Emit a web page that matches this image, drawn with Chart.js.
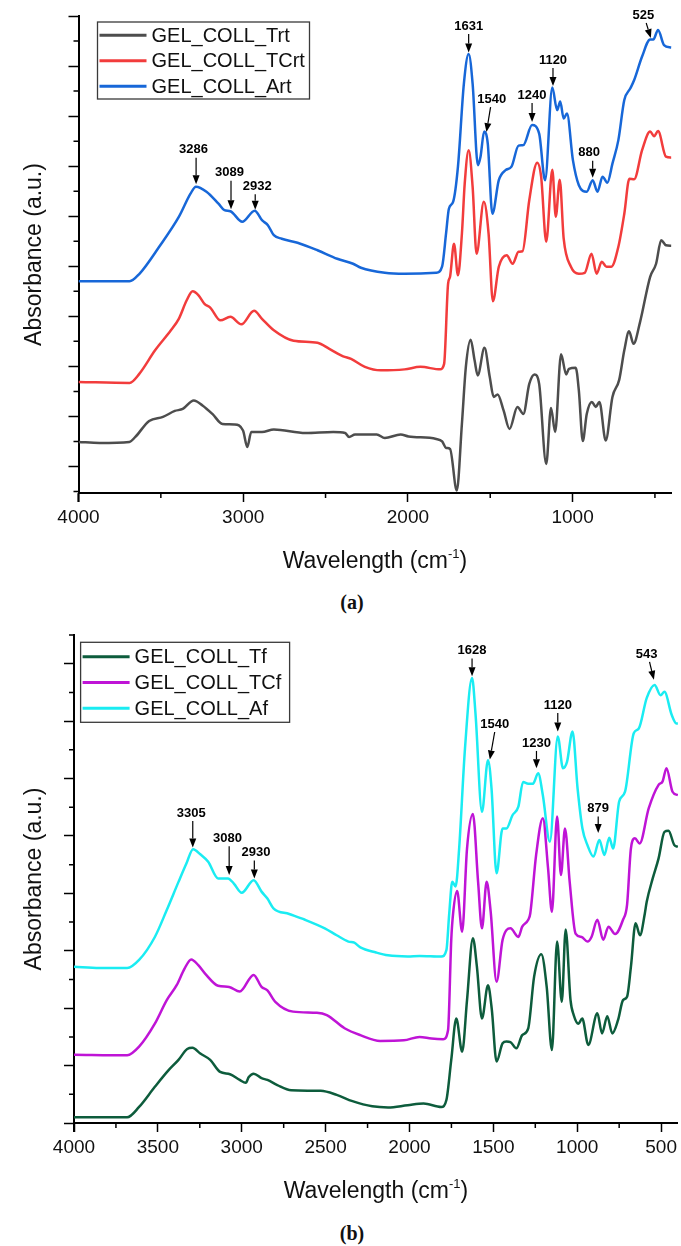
<!DOCTYPE html>
<html>
<head>
<meta charset="utf-8">
<script src="https://cdn.jsdelivr.net/npm/chart.js@4.4.1/dist/chart.umd.min.js"></script>
<style>
  html, body { margin: 0; padding: 0; background: #fff; }
  #page { position: relative; width: 681px; height: 1246px; overflow: hidden; }
  canvas { position: absolute; left: 0; }
  #chartA { top: 0; }
  #chartB { top: 615px; }
  .panel { position: absolute; left: 302px; width: 100px; text-align: center;
           font: bold 20px 'Liberation Serif', 'DejaVu Serif', serif; line-height: 24px; color: #111; }
</style>
</head>
<body>
<div id="page">
  <canvas id="chartA" width="681" height="585"></canvas>
  <div class="panel" style="top: 590px;">(a)</div>
  <canvas id="chartB" width="681" height="600"></canvas>
  <div class="panel" style="top: 1221px;">(b)</div>
</div>
<script>
// ---- panel (a): room temperature spectra ----
const trtWn = [4000, 3872, 3691, 3655, 3571, 3487, 3415, 3367, 3300, 3247, 3187, 3126, 3054, 3001, 2975, 2951, 2886, 2814, 2621, 2453, 2381, 2357, 2321, 2189, 2140, 2044, 1996, 1828, 1792, 1768, 1744, 1703, 1672, 1648, 1619, 1595, 1576, 1535, 1503, 1479, 1455, 1419, 1383, 1335, 1299, 1263, 1231, 1203, 1160, 1131, 1106, 1070, 1039, 1022, 981, 962, 938, 914, 883, 859, 837, 799, 758, 717, 686, 657, 630, 590, 529, 493, 462, 433, 400];
const trtAbs = [1.49, 1.47, 1.49, 1.59, 1.91, 1.99, 2.11, 2.15, 2.32, 2.22, 2.05, 1.85, 1.84, 1.72, 1.39, 1.69, 1.69, 1.74, 1.67, 1.69, 1.67, 1.59, 1.64, 1.64, 1.57, 1.64, 1.60, 1.55, 1.50, 1.37, 1.35, 0.52, 1.85, 2.99, 3.53, 3.12, 2.82, 3.37, 2.79, 2.39, 2.44, 2.12, 1.75, 2.19, 2.05, 2.65, 2.84, 2.65, 1.05, 2.17, 1.69, 3.24, 2.84, 2.95, 2.97, 2.52, 1.51, 2.05, 2.29, 2.19, 2.29, 1.52, 2.39, 2.73, 3.32, 3.70, 3.45, 3.89, 4.79, 5.05, 5.52, 5.42, 5.41];

const tcrtWn = [4000, 3690, 3631, 3535, 3439, 3391, 3343, 3307, 3271, 3235, 3199, 3138, 3078, 3011, 2934, 2886, 2814, 2694, 2549, 2477, 2393, 2345, 2261, 2165, 2020, 1924, 1804, 1780, 1756, 1744, 1720, 1696, 1672, 1655, 1631, 1607, 1583, 1539, 1510, 1484, 1448, 1400, 1364, 1328, 1304, 1263, 1215, 1191, 1160, 1123, 1102, 1078, 1054, 1010, 962, 926, 885, 854, 823, 794, 765, 722, 686, 655, 626, 578, 529, 505, 481, 433, 400];
const tcrtAbs = [2.69, 2.67, 2.85, 3.32, 3.72, 3.95, 4.32, 4.50, 4.42, 4.25, 4.17, 3.92, 3.99, 3.84, 4.11, 3.95, 3.72, 3.51, 3.47, 3.35, 3.20, 3.15, 2.99, 2.92, 2.94, 2.99, 2.94, 3.05, 4.65, 4.79, 5.45, 4.82, 5.65, 6.65, 7.32, 6.59, 5.25, 6.29, 5.65, 4.30, 4.99, 5.22, 5.05, 5.29, 5.30, 6.32, 7.07, 6.79, 5.49, 6.93, 5.99, 6.73, 5.55, 4.99, 4.85, 4.87, 5.25, 4.85, 5.09, 4.99, 4.99, 5.39, 6.05, 6.75, 6.74, 7.32, 7.69, 7.60, 7.70, 7.19, 7.17];

const artWn = [4000, 3690, 3630, 3510, 3390, 3320, 3287, 3223, 3150, 3114, 3078, 3006, 2930, 2886, 2850, 2814, 2766, 2670, 2549, 2429, 2333, 2285, 2140, 2020, 1828, 1792, 1768, 1751, 1725, 1696, 1660, 1631, 1607, 1575, 1559, 1537, 1515, 1487, 1448, 1407, 1371, 1328, 1299, 1246, 1203, 1167, 1123, 1094, 1075, 1054, 1034, 998, 962, 914, 878, 849, 818, 789, 758, 722, 686, 650, 626, 578, 529, 510, 481, 445, 400];
const artAbs = [4.70, 4.70, 4.85, 5.39, 5.99, 6.45, 6.59, 6.49, 6.25, 6.12, 6.10, 5.89, 6.11, 5.92, 5.82, 5.62, 5.55, 5.47, 5.32, 5.15, 5.05, 4.97, 4.87, 4.85, 4.87, 5.00, 5.66, 6.15, 6.29, 6.99, 8.65, 9.24, 8.65, 7.02, 7.19, 7.69, 7.45, 6.05, 6.72, 6.92, 6.99, 7.41, 7.42, 7.82, 7.65, 6.72, 8.57, 8.12, 8.29, 7.95, 8.05, 7.12, 6.62, 6.49, 6.72, 6.49, 6.79, 6.67, 7.05, 7.52, 8.32, 8.55, 8.72, 9.19, 9.53, 9.53, 9.72, 9.42, 9.37];

// ---- panel (b): spectra after treatment ----
const tfWn = [4000, 3683, 3612, 3518, 3436, 3377, 3325, 3294, 3247, 3188, 3129, 3070, 3012, 2976, 2958, 2929, 2882, 2847, 2788, 2705, 2529, 2434, 2340, 2222, 2128, 2011, 1916, 1810, 1780, 1751, 1721, 1686, 1657, 1622, 1598, 1568, 1532, 1509, 1481, 1445, 1422, 1398, 1363, 1328, 1292, 1257, 1214, 1182, 1151, 1120, 1092, 1069, 1040, 1021, 993, 970, 934, 880, 852, 821, 791, 757, 727, 703, 680, 652, 626, 597, 586, 550, 515, 480, 456, 421, 400];
const tfAbs = [1.10, 1.10, 1.28, 1.63, 1.92, 2.10, 2.29, 2.31, 2.21, 2.10, 1.89, 1.85, 1.75, 1.70, 1.80, 1.86, 1.78, 1.75, 1.66, 1.57, 1.56, 1.49, 1.38, 1.29, 1.27, 1.31, 1.34, 1.28, 1.40, 2.10, 2.82, 2.24, 3.14, 4.22, 3.72, 2.82, 3.40, 2.97, 2.07, 2.39, 2.42, 2.41, 2.30, 2.53, 2.65, 3.55, 3.94, 3.37, 2.27, 4.16, 3.11, 4.37, 3.14, 2.88, 2.73, 2.82, 2.36, 2.91, 2.56, 2.86, 2.56, 2.79, 3.14, 3.20, 3.72, 4.48, 4.27, 4.65, 4.85, 5.26, 5.61, 6.07, 6.09, 5.84, 5.81];

const tcfWn = [4000, 3683, 3612, 3518, 3447, 3388, 3341, 3301, 3259, 3212, 3141, 3075, 3012, 2929, 2882, 2847, 2800, 2694, 2552, 2493, 2387, 2293, 2175, 2034, 1940, 1869, 1799, 1770, 1751, 1740, 1716, 1686, 1657, 1622, 1591, 1568, 1540, 1516, 1481, 1445, 1398, 1351, 1328, 1292, 1280, 1245, 1205, 1174, 1151, 1120, 1097, 1073, 1045, 1010, 974, 939, 915, 880, 845, 814, 774, 727, 703, 680, 656, 628, 574, 515, 491, 468, 432, 400];
const tcfAbs = [2.19, 2.18, 2.33, 2.73, 3.14, 3.40, 3.69, 3.85, 3.75, 3.58, 3.39, 3.37, 3.29, 3.58, 3.37, 3.31, 3.11, 2.94, 2.92, 2.88, 2.65, 2.53, 2.43, 2.44, 2.50, 2.47, 2.46, 2.62, 4.19, 4.65, 5.04, 4.33, 5.78, 6.38, 5.20, 4.39, 5.20, 4.68, 3.46, 4.19, 4.39, 4.24, 4.42, 4.54, 4.65, 5.67, 6.31, 5.44, 4.68, 6.34, 5.32, 6.13, 5.20, 4.30, 4.24, 4.16, 4.24, 4.54, 4.19, 4.42, 4.29, 4.54, 4.80, 5.78, 5.96, 5.87, 6.48, 6.89, 6.95, 7.18, 6.77, 6.71];

const afWn = [4000, 3848, 3683, 3612, 3518, 3447, 3377, 3330, 3290, 3247, 3200, 3141, 3082, 3047, 3000, 2929, 2882, 2847, 2811, 2717, 2623, 2505, 2434, 2364, 2329, 2293, 2199, 2128, 2011, 1940, 1810, 1780, 1763, 1745, 1725, 1704, 1669, 1627, 1606, 1568, 1532, 1511, 1481, 1445, 1422, 1386, 1351, 1323, 1292, 1264, 1233, 1205, 1163, 1116, 1085, 1061, 1028, 998, 969, 939, 903, 868, 838, 809, 786, 750, 715, 663, 633, 586, 539, 503, 480, 437, 409, 400];
const afAbs = [3.72, 3.70, 3.70, 3.84, 4.24, 4.71, 5.20, 5.52, 5.77, 5.68, 5.55, 5.26, 5.26, 5.17, 5.01, 5.23, 5.03, 4.91, 4.74, 4.64, 4.54, 4.39, 4.27, 4.16, 4.14, 4.06, 3.97, 3.92, 3.90, 3.91, 3.90, 4.01, 4.65, 5.20, 5.12, 5.78, 7.53, 8.75, 8.11, 6.42, 7.32, 6.83, 5.35, 6.13, 6.13, 6.36, 6.51, 6.94, 6.91, 6.91, 7.09, 6.71, 5.90, 7.73, 7.18, 7.29, 7.82, 6.83, 6.13, 5.84, 5.64, 5.93, 5.67, 5.97, 5.78, 6.60, 6.77, 7.79, 7.87, 8.40, 8.63, 8.45, 8.51, 8.11, 7.96, 7.96];

// axis ticks
const xMajorA = [4000, 3000, 2000, 1000];
const xMinorA = [3500, 2500, 1500, 500];
const xMajorB = [4000, 3500, 3000, 2500, 2000, 1500, 1000, 500];
const xMinorB = [3750, 3250, 2750, 2250, 1750, 1250, 750];
const yMajorA = [1, 2, 3, 4, 5, 6, 7, 8, 9, 10];
const yMinorA = [0.5, 1.5, 2.5, 3.5, 4.5, 5.5, 6.5, 7.5, 8.5, 9.5];
const yMajorB = [1, 2, 3, 4, 5, 6, 7, 8, 9];
const yMinorB = [1.5, 2.5, 3.5, 4.5, 5.5, 6.5, 7.5, 8.5, 9.5];

// peak labels: tip of arrow (x, y), label centre (tx, ty), optional arrow start sx
const peaksA = [
  { text: '3286', x: 3286, y: 6.64, tx: 3302, ty: 7.33 },
  { text: '3089', x: 3074, y: 6.14, tx: 3083, ty: 6.87 },
  { text: '2932', x: 2927, y: 6.13, tx: 2915, ty: 6.60 },
  { text: '1631', x: 1631, y: 9.27, tx: 1631, ty: 9.80 },
  { text: '1540', x: 1523, y: 7.68, tx: 1491, ty: 8.34, sx: 1498 },
  { text: '1240', x: 1246, y: 7.88, tx: 1246, ty: 8.42 },
  { text: '1120', x: 1119, y: 8.60, tx: 1119, ty: 9.12 },
  { text: '880', x: 878, y: 6.77, tx: 900, ty: 7.27 },
  { text: '525', x: 525, y: 9.56, tx: 570, ty: 10.02, sx: 553 }
];
const peaksB = [
  { text: '3305', x: 3292, y: 5.80, tx: 3301, ty: 6.40 },
  { text: '3080', x: 3075, y: 5.32, tx: 3085, ty: 5.96 },
  { text: '2930', x: 2925, y: 5.26, tx: 2915, ty: 5.71 },
  { text: '1628', x: 1627, y: 8.78, tx: 1627, ty: 9.23 },
  { text: '1540', x: 1521, y: 7.33, tx: 1492, ty: 7.95, sx: 1492 },
  { text: '1230', x: 1243, y: 7.18, tx: 1243, ty: 7.62 },
  { text: '1120', x: 1116, y: 7.82, tx: 1116, ty: 8.28 },
  { text: '879', x: 875, y: 6.05, tx: 875, ty: 6.48 },
  { text: '543', x: 543, y: 8.72, tx: 586, ty: 9.17, sx: 569 }
];

const FONT = "'Liberation Sans', Arial, 'DejaVu Sans', sans-serif";

// draws the minor ticks, x title with superscript, boxed legend and arrowed peak labels
function makeOverlay(cfg) {
  return {
    id: 'overlay',
    afterDraw(chart) {
      const { ctx, chartArea: area, scales: { x, y } } = chart;
      ctx.save();

      // minor ticks + axis stub below the corner
      ctx.strokeStyle = '#000';
      ctx.lineWidth = 1.5;
      ctx.beginPath();
      cfg.xMinor.forEach(v => {
        const px = x.getPixelForValue(v);
        ctx.moveTo(px, area.bottom);
        ctx.lineTo(px, area.bottom + 5);
      });
      cfg.yMinor.forEach(v => {
        const py = y.getPixelForValue(v);
        ctx.moveTo(area.left, py);
        ctx.lineTo(area.left - 5, py);
      });
      ctx.stroke();
      ctx.lineWidth = 2;
      ctx.beginPath();
      ctx.moveTo(area.left, area.bottom);
      ctx.lineTo(area.left, area.bottom + 9);
      ctx.stroke();

      // x title: Wavelength (cm^-1)
      const main = 'Wavelength (cm', sup = '-1', close = ')';
      ctx.fillStyle = '#111';
      ctx.textBaseline = 'alphabetic';
      ctx.textAlign = 'left';
      ctx.font = '23px ' + FONT;
      const w1 = ctx.measureText(main).width, w3 = ctx.measureText(close).width;
      ctx.font = '13px ' + FONT;
      const w2 = ctx.measureText(sup).width;
      const base = area.bottom + 75;
      let cx = (area.left + area.right) / 2 - (w1 + w2 + w3) / 2;
      ctx.font = '23px ' + FONT;
      ctx.fillText(main, cx, base);
      cx += w1;
      ctx.font = '13px ' + FONT;
      ctx.fillText(sup, cx, base - 10);
      cx += w2;
      ctx.font = '23px ' + FONT;
      ctx.fillText(close, cx, base);

      // legend with frame
      const L = cfg.legend;
      const bx = area.left + L.dx, by = area.top + L.dy;
      ctx.fillStyle = '#fff';
      ctx.fillRect(bx, by, L.w, L.h);
      ctx.strokeStyle = '#3a3a3a';
      ctx.lineWidth = 1.3;
      ctx.strokeRect(bx, by, L.w, L.h);
      ctx.font = '20px ' + FONT;
      ctx.textAlign = 'left';
      ctx.textBaseline = 'middle';
      chart.data.datasets.forEach((ds, i) => {
        const ry = by + L.row0 + i * L.rowGap;
        ctx.strokeStyle = ds.borderColor;
        ctx.lineWidth = 3;
        ctx.beginPath();
        ctx.moveTo(bx + 2, ry);
        ctx.lineTo(bx + 49, ry);
        ctx.stroke();
        ctx.fillStyle = '#111';
        ctx.fillText(ds.label, bx + 54, ry + 1);
      });

      // peak labels
      ctx.font = 'bold 13px ' + FONT;
      ctx.textAlign = 'center';
      ctx.fillStyle = '#000';
      ctx.strokeStyle = '#000';
      cfg.peaks.forEach(p => {
        const tipX = x.getPixelForValue(p.x), tipY = y.getPixelForValue(p.y);
        const tX = x.getPixelForValue(p.tx), tY = y.getPixelForValue(p.ty);
        ctx.fillText(p.text, tX, tY);
        const sx = p.sx !== undefined ? x.getPixelForValue(p.sx) : tipX;
        const sy = tY + 8;
        const ang = Math.atan2(tipY - sy, tipX - sx);
        const head = 9, half = 3.5;
        const hx = tipX - head * Math.cos(ang), hy = tipY - head * Math.sin(ang);
        ctx.lineWidth = 1.2;
        ctx.beginPath();
        ctx.moveTo(sx, sy);
        ctx.lineTo(hx, hy);
        ctx.stroke();
        ctx.beginPath();
        ctx.moveTo(tipX, tipY);
        ctx.lineTo(hx + half * Math.sin(ang), hy - half * Math.cos(ang));
        ctx.lineTo(hx - half * Math.sin(ang), hy + half * Math.cos(ang));
        ctx.closePath();
        ctx.fill();
      });
      ctx.restore();
    }
  };
}

function buildChart(id, cfg) {
  return new Chart(document.getElementById(id), {
    type: 'line',
    data: {
      datasets: cfg.series.map(s => ({
        label: s.label,
        data: s.wn.map((w, i) => ({ x: w, y: s.abs[i] })),
        borderColor: s.color,
        borderWidth: 2.5,
        pointRadius: 0,
        cubicInterpolationMode: 'monotone',
        fill: false
      }))
    },
    options: {
      responsive: false,
      animation: false,
      layout: { padding: { top: cfg.padTop, right: cfg.padRight, left: 0, bottom: 0 } },
      plugins: { legend: { display: false }, tooltip: { enabled: false } },
      scales: {
        x: {
          type: 'linear', reverse: true, min: 400, max: 4000,
          afterFit: s => { s.height = 92; },
          afterBuildTicks: s => { s.ticks = cfg.xMajor.map(v => ({ value: v })); },
          ticks: { callback: v => String(v), font: { family: FONT, size: 19 }, color: '#111', padding: 4, maxRotation: 0, autoSkip: false },
          grid: { drawOnChartArea: false, tickLength: 9, tickWidth: 1.5, tickColor: '#000' },
          border: { color: '#000', width: 2 },
          title: { display: false }
        },
        y: {
          type: 'linear', min: cfg.yMin, max: cfg.yMax,
          afterFit: s => { s.width = cfg.axisLeft; },
          afterBuildTicks: s => { s.ticks = cfg.yMajor.map(v => ({ value: v })); },
          ticks: { display: false },
          grid: { drawOnChartArea: false, tickLength: 10, tickWidth: 1.5, tickColor: '#000' },
          border: { color: '#000', width: 2 },
          title: { display: true, text: 'Absorbance (a.u.)', color: '#111',
                   font: { family: FONT, size: 23 }, padding: { top: 21, bottom: 0 } }
        }
      }
    },
    plugins: [makeOverlay(cfg)]
  });
}

buildChart('chartA', {
  series: [
    { label: 'GEL_COLL_Trt', wn: trtWn, abs: trtAbs, color: '#4d4d4d' },
    { label: 'GEL_COLL_TCrt', wn: tcrtWn, abs: tcrtAbs, color: '#f23c3c' },
    { label: 'GEL_COLL_Art', wn: artWn, abs: artAbs, color: '#1767d8' }
  ],
  xMajor: xMajorA, xMinor: xMinorA, yMajor: yMajorA, yMinor: yMinorA,
  yMin: 0.47, yMax: 10, axisLeft: 78.5, padTop: 16, padRight: 9.6,
  legend: { dx: 19, dy: 6, w: 212, h: 77, row0: 13.3, rowGap: 25.5 },
  peaks: peaksA
});

buildChart('chartB', {
  series: [
    { label: 'GEL_COLL_Tf', wn: tfWn, abs: tfAbs, color: '#0d5c3c' },
    { label: 'GEL_COLL_TCf', wn: tcfWn, abs: tcfAbs, color: '#bf14d6' },
    { label: 'GEL_COLL_Af', wn: afWn, abs: afAbs, color: '#1aecf2' }
  ],
  xMajor: xMajorB, xMinor: xMinorB, yMajor: yMajorB, yMinor: yMinorB,
  yMin: 1, yMax: 9.5, axisLeft: 74, padTop: 20, padRight: 1.7,
  legend: { dx: 6.6, dy: 7.3, w: 209, h: 80, row0: 14.4, rowGap: 25.8 },
  peaks: peaksB
});
</script>
</body>
</html>
